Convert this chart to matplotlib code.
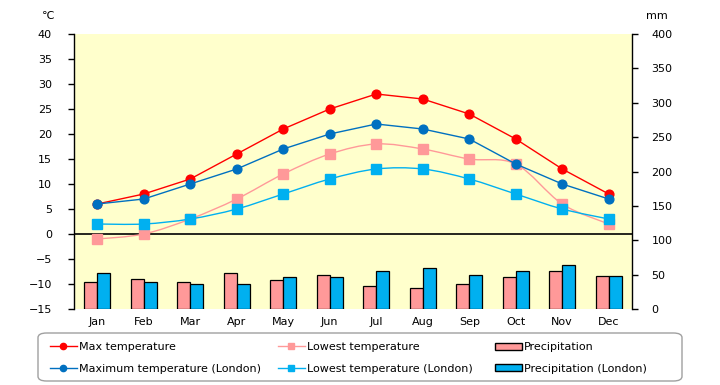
import matplotlib
matplotlib.use("Agg")
import matplotlib.pyplot as plt
import numpy as np
from matplotlib.path import Path
from matplotlib.patches import PathPatch, FancyBboxPatch
from matplotlib.lines import Line2D
from matplotlib.patches import Patch

months = ["Jan", "Feb", "Mar", "Apr", "May", "Jun", "Jul", "Aug", "Sep", "Oct", "Nov", "Dec"]
max_temp = [6, 8, 11, 16, 21, 25, 28, 27, 24, 19, 13, 8]
low_temp = [-1, 0, 3, 7, 12, 16, 18, 17, 15, 14, 6, 2]
max_london = [6, 7, 10, 13, 17, 20, 22, 21, 19, 14, 10, 7]
low_london = [2, 2, 3, 5, 8, 11, 13, 13, 11, 8, 5, 3]
precip = [40, 43, 40, 53, 42, 49, 33, 30, 36, 46, 56, 48]
precip_london = [52, 40, 36, 37, 46, 46, 56, 59, 49, 56, 64, 48]

C_RED = "#FF0000"
C_PINK = "#FF9999"
C_DBLUE = "#0070C0"
C_LBLUE = "#00B0F0"
BG = "#FFFFCC"

plt.rcParams["font.family"] = ["DejaVu Sans"]
fig = plt.figure(figsize=(7.2, 3.85), dpi=100)
L, R, T, B = 74 / 720, 632 / 720, 34 / 385, 309 / 385
ax = fig.add_axes([L, 1 - B, R - L, B - T])
ax2 = ax.twinx()
ax.set_zorder(ax2.get_zorder() + 1)
ax.patch.set_visible(False)
ax2.patch.set_facecolor(BG)
ax2.patch.set_visible(True)

x = np.arange(len(months))
bw = 0.28
ax2.bar(x - bw / 2, precip, width=bw, color=C_PINK, edgecolor="black", linewidth=0.9, zorder=2)
ax2.bar(x + bw / 2, precip_london, width=bw, color=C_LBLUE, edgecolor="black", linewidth=0.9, zorder=2)
ax2.set_ylim(0, 400)
ax2.set_yticks(range(0, 401, 50))


def smooth_path(xs, ys, t=1 / 6):
    xs = np.asarray(xs, float)
    ys = np.asarray(ys, float)
    n = len(xs)
    verts = [(xs[0], ys[0])]
    codes = [Path.MOVETO]
    for i in range(n - 1):
        p0 = (xs[max(i - 1, 0)], ys[max(i - 1, 0)])
        p1 = (xs[i], ys[i])
        p2 = (xs[i + 1], ys[i + 1])
        p3 = (xs[min(i + 2, n - 1)], ys[min(i + 2, n - 1)])
        c1 = (p1[0] + (p2[0] - p0[0]) * t, p1[1] + (p2[1] - p0[1]) * t)
        c2 = (p2[0] - (p3[0] - p1[0]) * t, p2[1] - (p3[1] - p1[1]) * t)
        verts += [c1, c2, p2]
        codes += [Path.CURVE4] * 3
    return Path(verts, codes)


ax.axhline(0, color="black", linewidth=1.2, zorder=1)

ax.plot(x, max_temp, color=C_RED, lw=1.0, marker="o", ms=6.3, zorder=5)
ax.plot(x, max_london, color=C_DBLUE, lw=1.0, marker="o", ms=6.3, zorder=5)
for ys, c in [(low_temp, C_PINK), (low_london, C_LBLUE)]:
    ax.add_patch(PathPatch(smooth_path(x, ys), fill=False, edgecolor=c, lw=1.0, zorder=4))
    ax.plot(x, ys, linestyle="none", marker="s", ms=6.5, color=c, zorder=4)

ax.set_xlim(-0.5, 11.5)
ax.set_ylim(-15, 40)
ax.set_yticks(range(-15, 41, 5))
ax.set_xticks(x)
ax.set_xticklabels(months)

for a in (ax, ax2):
    a.spines["top"].set_visible(False)
    a.spines["bottom"].set_visible(False)
ax.spines["right"].set_visible(False)
ax2.spines["left"].set_visible(False)
ax.spines["left"].set_linewidth(1.0)
ax2.spines["right"].set_linewidth(1.0)
ax.tick_params(axis="y", labelsize=8, length=4, width=1.0, pad=12, direction="out")
ax.tick_params(axis="x", labelsize=8, length=0, pad=6)
ax2.tick_params(axis="y", labelsize=8, length=4, width=1.0, pad=10, direction="out")
ax2.tick_params(axis="x", length=0)

fig.text(48 / 720, 1 - 16 / 385, "℃", fontsize=8, ha="center", va="center")
fig.text(657 / 720, 1 - 16 / 385, "mm", fontsize=8, ha="center", va="center")

# legend frame
frame = FancyBboxPatch((38 / 720, 1 - 381 / 385), (682 - 38) / 720, (381 - 333) / 385,
                       boxstyle="round,pad=0,rounding_size=0.012", transform=fig.transFigure,
                       facecolor="white", edgecolor="#A0A0A0", linewidth=1.0)
fig.patches.append(frame)

h_max = Line2D([], [], color=C_RED, lw=1.0, marker="o", ms=4.5)
h_maxl = Line2D([], [], color=C_DBLUE, lw=1.0, marker="o", ms=4.5)
h_low = Line2D([], [], color=C_PINK, lw=1.0, marker="s", ms=5)
h_lowl = Line2D([], [], color=C_LBLUE, lw=1.0, marker="s", ms=5)
h_p = Patch(facecolor=C_PINK, edgecolor="black", linewidth=1.0)
h_pl = Patch(facecolor=C_LBLUE, edgecolor="black", linewidth=1.0)

groups = [
    ([h_max, h_maxl], ["Max temperature", "Maximum temperature (London)"], 50),
    ([h_low, h_lowl], ["Lowest temperature", "Lowest temperature (London)"], 278),
    ([h_p, h_pl], ["Precipitation", "Precipitation (London)"], 495),
]
for hs, ls, px in groups:
    fig.legend(hs, ls, loc="upper left", bbox_to_anchor=(px / 720, 1 - 342 / 385),
               frameon=False, fontsize=8, handlelength=2.4, handletextpad=0.2,
               labelspacing=1.05, borderpad=0, borderaxespad=0, handleheight=0.6)

fig.savefig("out.png", dpi=100)
